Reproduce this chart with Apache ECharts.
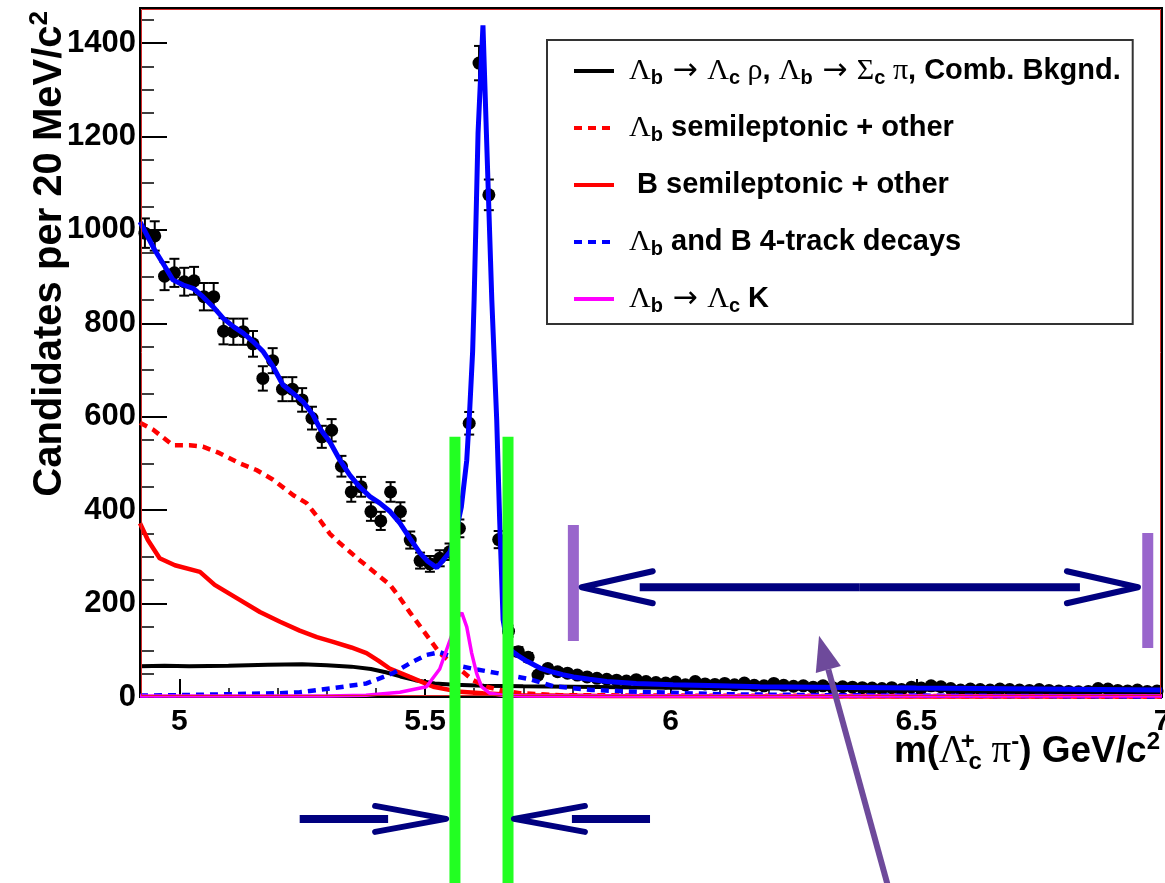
<!DOCTYPE html>
<html>
<head>
<meta charset="utf-8">
<title>m(Λc+ π-) candidates</title>
<script src="https://cdn.jsdelivr.net/npm/echarts@6/dist/echarts.min.js"></script>
<style>
  html, body { margin: 0; padding: 0; background: #ffffff; }
  #chart { width: 1165px; height: 883px; }
</style>
</head>
<body>
<div id="chart"></div>
<script>
// ---- measured spectrum: bin centres (GeV/c^2), candidates per 20 MeV, errors ----
const binCentres = [
  4.93,4.95,4.97,4.99,5.01,5.03,5.05,5.07,5.09,5.11,
  5.13,5.15,5.17,5.19,5.21,5.23,5.25,5.27,5.29,5.31,
  5.33,5.35,5.37,5.39,5.41,5.43,5.45,5.47,5.49,5.51,
  5.53,5.55,5.57,5.59,5.61,5.63,5.65,5.67,5.69,5.71,
  5.73,5.75,5.77,5.79,5.81,5.83,5.85,5.87,5.89,5.91,
  5.93,5.95,5.97,5.99,6.01,6.03,6.05,6.07,6.09,6.11,
  6.13,6.15,6.17,6.19,6.21,6.23,6.25,6.27,6.29,6.31,
  6.33,6.35,6.37,6.39,6.41,6.43,6.45,6.47,6.49,6.51,
  6.53,6.55,6.57,6.59,6.61,6.63,6.65,6.67,6.69,6.71,
  6.73,6.75,6.77,6.79,6.81,6.83,6.85,6.87,6.89,6.91,
  6.93,6.95,6.97,6.99
];
const counts = [
  993,987,901,908,889,891,857,857,783,782,
  782,756,682,720,659,659,636,597,557,571,
  494,439,450,397,377,439,397,336,292,285,
  297,311,361,586,1357,1075,337,141,97,85,
  47,61,54,51,47,43,40,38,36,34,
  37,33,31,30,32,26,33,28,27,29,
  26,30,25,24,29,25,23,24,21,24,
  20,22,21,20,19,18,20,16,21,19,
  24,22,18,15,17,16,15,17,16,15,
  14,16,14,13,12,11,12,18,17,14,
  13,15,12,13
];
const countErrors = [
  31.5,31.4,30.0,30.1,29.8,29.8,29.3,29.3,28.0,28.0,
  28.0,27.5,26.1,26.8,25.7,25.7,25.2,24.4,23.6,23.9,
  22.2,21.0,21.2,19.9,19.4,21.0,19.9,18.3,17.1,16.9,
  17.2,17.6,19.0,24.2,36.8,32.8,18.4,11.9,9.8,9.2,
  6.9,7.8,7.3,7.1,6.9,6.6,6.3,6.2,6.0,5.8,
  6.1,5.7,5.6,5.5,5.7,5.1,5.7,5.3,5.2,5.4,
  5.1,5.5,5.0,4.9,5.4,5.0,4.8,4.9,4.6,4.9,
  4.5,4.7,4.6,4.5,4.4,4.2,4.5,4.0,4.6,4.4,
  4.9,4.7,4.2,3.9,4.1,4.0,3.9,4.1,4.0,3.9,
  3.7,4.0,3.7,3.6,3.5,3.3,3.5,4.2,4.1,3.7,
  3.6,3.9,3.5,3.6
];

// ---- fit result and its components: [mass, candidates] ----
const totalFit = [
  [4.92,1017],[4.95,957],[4.971,921],[4.987,893],[5.008,882],[5.028,875],[5.048,857],
  [5.069,835],[5.089,811],[5.11,793],[5.13,779],[5.15,761],[5.171,739],[5.191,707],
  [5.211,668],[5.232,650],[5.252,632],[5.272,604],[5.286,575],[5.306,547],[5.327,507],
  [5.347,475],[5.367,450],[5.388,429],[5.408,415],[5.429,397],[5.449,372],[5.469,340],
  [5.49,308],[5.506,290],[5.524,277],[5.537,293],[5.551,311],[5.564,357],[5.574,407],
  [5.585,507],[5.591,614],[5.597,740],[5.600,850],[5.608,1207],[5.618,1438],[5.625,1207],
  [5.636,850],[5.646,593],[5.652,379],[5.659,165],[5.666,122],[5.673,101],[5.69,88],
  [5.707,77],[5.734,62],[5.755,55],[5.78,48],[5.802,43],[5.835,38],[5.87,33],[5.93,29],
  [6.005,26],[6.1,24],[6.182,22],[6.3,21],[6.5,19],[6.75,17],[7.0,15]
];
const combBackground = [
  [4.92,66],[4.97,67],[5.02,66],[5.1,67],[5.18,69],[5.25,70],[5.3,68],[5.35,65],
  [5.39,60],[5.42,53],[5.45,44],[5.48,36],[5.52,29],[5.56,26],[5.62,24],[5.7,23],
  [5.8,22],[6.0,20],[6.25,18],[6.5,16],[6.75,14],[7.0,12]
];
const lambdaBSemileptonic = [
  [4.92,587],[4.947,572],[4.987,539],[5.021,539],[5.048,536],[5.082,522],[5.123,500],
  [5.157,486],[5.191,465],[5.232,432],[5.259,415],[5.286,379],[5.306,350],[5.327,329],
  [5.347,311],[5.367,293],[5.388,275],[5.408,258],[5.429,240],[5.449,212],[5.47,180],
  [5.496,143],[5.53,94],[5.564,65],[5.598,36],[5.625,22],[5.652,15],[5.693,8],
  [5.775,4],[6.0,3],[6.5,2],[7.0,1]
];
const bSemileptonic = [
  [4.92,372],[4.936,336],[4.96,297],[4.991,282],[5.042,268],[5.072,240],[5.123,208],
  [5.164,182],[5.205,161],[5.245,142],[5.28,128],[5.313,118],[5.35,106],[5.381,94],
  [5.405,78],[5.428,61],[5.469,43],[5.517,22],[5.571,11],[5.618,8],[5.693,4],
  [5.856,2],[6.5,1],[7.0,1]
];
const fourTrackDecays = [
  [4.92,3],[5.0,4],[5.1,6],[5.2,8],[5.245,10],[5.313,19],[5.381,29],[5.435,51],
  [5.469,72],[5.503,90],[5.53,96],[5.555,86],[5.571,66],[5.6,60],[5.632,54],
  [5.673,46],[5.714,38],[5.74,30],[5.761,23],[5.84,15],[5.94,11],[6.1,6],
  [6.3,4],[6.5,3],[7.0,1]
];
const lambdaCKaon = [
  [4.92,2],[5.3,2],[5.38,4],[5.449,10],[5.503,22],[5.53,60],[5.551,122],[5.568,172],
  [5.575,180],[5.585,150],[5.595,94],[5.605,51],[5.615,22],[5.632,8],[5.66,3],
  [5.7,2],[7.0,2]
];

// ---- axis ranges and tick labels ----
const massRange = [4.92, 7.0];
const countRange = [0, 1475];
const xTickLabels = { 5: '5', 5.5: '5.5', 6: '6', 6.5: '6.5', 7: '7' };
const yTickLabels = { 0: '0', 200: '200', 400: '400', 600: '600', 800: '800', 1000: '1000', 1200: '1200', 1400: '1400' };

// ---- series names shown in the legend ----
const names = {
  comb: 'Λb → Λc ρ, Λb → Σc π, Comb. Bkgnd.',
  lbSemi: 'Λb semileptonic + other',
  bSemi: 'B semileptonic + other',
  fourTrack: 'Λb and B 4-track decays',
  lcK: 'Λb → Λc K'
};
const legendRich = {
  [names.comb]: '{g|Λ}{s|b}{a| → }{g|Λ}{s|c}{g| ρ}{t|, }{g|Λ}{s|b}{a| → }{g|Σ}{s|c}{g| π}{t|, Comb. Bkgnd.}',
  [names.lbSemi]: '{g|Λ}{s|b}{t| semileptonic + other}',
  [names.bSemi]: '{t| B semileptonic + other}',
  [names.fourTrack]: '{g|Λ}{s|b}{t| and B 4-track decays}',
  [names.lcK]: '{g|Λ}{s|b}{a| → }{g|Λ}{s|c}{t| K}'
};

// ---- annotation anchors in data units (mass, candidates) ----
const windowEdges = [5.561, 5.669];
const windowTop = 557;
const windowArrowLevel = -261;
const windowArrows = [[5.543, 5.245], [5.681, 5.958]];      // [tip, tail]
const sidebandBars = [[5.802, 120, 368], [6.971, 105, 351]]; // [mass, low, high]
const sidebandArrowLevel = 235;
const sidebandTips = [5.819, 6.951];
const pointerTip = [6.302, 131];

const SANS = "'Liberation Sans', Arial, Helvetica, sans-serif";
const SYMB = "'Liberation Serif', 'DejaVu Serif', serif";
const ARROW = "'DejaVu Sans', sans-serif";
const NAVY = '#00007f';

const chart = echarts.init(document.getElementById('chart'), null, { renderer: 'canvas' });

function onHalfGeV(v) { return Math.abs(v * 2 - Math.round(v * 2)) < 1e-6; }

const legendTextStyle = {
  fontFamily: SANS, fontWeight: 'bold', fontSize: 29, color: '#000', lineHeight: 34,
  padding: [0, 0, 0, 10],
  rich: {
    t: { fontFamily: SANS, fontWeight: 'bold', fontSize: 29, color: '#000', lineHeight: 34 },
    g: { fontFamily: SYMB, fontWeight: 'normal', fontSize: 30, color: '#000', lineHeight: 34 },
    a: { fontFamily: ARROW, fontWeight: 'normal', fontSize: 30, color: '#000', lineHeight: 34 },
    s: { fontFamily: SANS, fontWeight: 'bold', fontSize: 20, color: '#000', lineHeight: 34, padding: [14, 0, 0, 0] }
  }
};

function lineSeries(name, data, color, width, dashed, z) {
  return {
    name: name, type: 'line', data: data, symbol: 'none', showSymbol: false,
    smooth: false, clip: true, z: z || 4,
    lineStyle: { color: color, width: width, type: dashed ? [8, 6] : 'solid', cap: 'butt', opacity: 1 },
    itemStyle: { color: color },
    emphasis: { disabled: true }
  };
}

const option = {
  animation: false,
  backgroundColor: '#ffffff',
  grid: {
    left: 140, right: 3, top: 8, bottom: 186,
    show: true, borderColor: '#000', borderWidth: 2,
    containLabel: false, outerBoundsMode: 'none'
  },
  xAxis: {
    type: 'value', min: massRange[0], max: massRange[1], splitNumber: 4,
    name: 'm({g|Λ}{p|+}{c|c}{g| π}{m|-}) GeV/c{q|2}',
    nameLocation: 'end', nameGap: -2, nameMoveOverlap: false,
    nameTextStyle: {
      fontFamily: SANS, fontWeight: 'bold', fontSize: 37, color: '#000',
      align: 'right', verticalAlign: 'top', padding: [34, 0, 0, 0], lineHeight: 42,
      rich: {
        g: { fontFamily: SYMB, fontWeight: 'normal', fontSize: 39, color: '#000', lineHeight: 42 },
        c: { fontFamily: SANS, fontWeight: 'bold', fontSize: 24, color: '#000', lineHeight: 42, padding: [20, 0, 0, 0] },
        p: { fontFamily: SANS, fontWeight: 'bold', fontSize: 24, color: '#000', lineHeight: 42, padding: [0, 0, 20, 0], width: 1, align: 'left' },
        m: { fontFamily: SANS, fontWeight: 'bold', fontSize: 24, color: '#000', lineHeight: 42, padding: [0, 0, 20, 0] },
        q: { fontFamily: SANS, fontWeight: 'bold', fontSize: 24, color: '#000', lineHeight: 42, padding: [0, 0, 20, 0] }
      }
    },
    axisLine: { show: true, onZero: false, lineStyle: { color: '#000', width: 2 } },
    axisTick: { show: true, inside: true, length: 18, lineStyle: { color: '#000', width: 2 } },
    minorTick: { show: true, splitNumber: 5, length: 9, lineStyle: { color: '#000', width: 1.5 } },
    axisLabel: {
      show: true, margin: 10, fontFamily: SANS, fontWeight: 'bold', fontSize: 30, color: '#000',
      formatter: function (v) { return onHalfGeV(v) && xTickLabels[+v.toFixed(1)] !== undefined ? xTickLabels[+v.toFixed(1)] : ''; }
    },
    splitLine: { show: false }
  },
  yAxis: {
    type: 'value', min: countRange[0], max: countRange[1], interval: 200,
    name: 'Candidates per 20 MeV/c{q|2}',
    nameLocation: 'end', nameRotate: 90, nameGap: -3, nameMoveOverlap: false,
    nameTextStyle: {
      fontFamily: SANS, fontWeight: 'bold', fontSize: 40, color: '#000',
      align: 'right', verticalAlign: 'bottom', padding: [0, 0, 68, 0], lineHeight: 44,
      rich: {
        q: { fontFamily: SANS, fontWeight: 'bold', fontSize: 26, color: '#000', lineHeight: 44, padding: [0, 0, 20, 0] }
      }
    },
    axisLine: { show: true, onZero: false, lineStyle: { color: '#000', width: 2 } },
    axisTick: { show: true, inside: true, length: 27, lineStyle: { color: '#000', width: 2 } },
    minorTick: { show: true, splitNumber: 4, length: 14, lineStyle: { color: '#000', width: 1.5 } },
    axisLabel: {
      show: true, margin: 4, fontFamily: SANS, fontWeight: 'bold', fontSize: 31, color: '#000',
      formatter: function (v) { return yTickLabels[v] !== undefined ? yTickLabels[v] : ''; }
    },
    splitLine: { show: false }
  },
  legend: {
    show: true, orient: 'vertical', left: 547, top: 40,
    padding: [14, 12, 8, 25], itemGap: 23, itemWidth: 40, itemHeight: 14,
    borderColor: '#333', borderWidth: 2, backgroundColor: '#fff',
    selectedMode: false,
    data: [names.comb, names.lbSemi, names.bSemi, names.fourTrack, names.lcK],
    formatter: function (name) { return legendRich[name]; },
    textStyle: legendTextStyle,
    itemStyle: { opacity: 0, borderWidth: 0 },
    lineStyle: { width: 4 }
  },
  series: [
    {
      name: 'stat. errors', type: 'custom', z: 3,
      data: binCentres.map(function (m, i) { return [m, counts[i] - countErrors[i], counts[i] + countErrors[i]]; }),
      encode: { x: 0, y: [1, 2] },
      renderItem: function (params, api) {
        const lo = api.coord([api.value(0), api.value(1)]);
        const hi = api.coord([api.value(0), api.value(2)]);
        const st = { stroke: '#000', lineWidth: 2 };
        return {
          type: 'group',
          children: [
            { type: 'line', shape: { x1: lo[0], y1: lo[1], x2: hi[0], y2: hi[1] }, style: st },
            { type: 'line', shape: { x1: lo[0] - 5, y1: lo[1], x2: lo[0] + 5, y2: lo[1] }, style: st },
            { type: 'line', shape: { x1: hi[0] - 5, y1: hi[1], x2: hi[0] + 5, y2: hi[1] }, style: st }
          ]
        };
      },
      emphasis: { disabled: true }
    },
    {
      name: 'data', type: 'scatter', z: 3,
      data: binCentres.map(function (m, i) { return [m, counts[i]]; }),
      symbol: 'circle', symbolSize: 13, itemStyle: { color: '#000', opacity: 1 },
      emphasis: { disabled: true }
    },
    lineSeries(names.comb, combBackground, '#000000', 4, false),
    lineSeries(names.lbSemi, lambdaBSemileptonic, '#ff0000', 4.5, true),
    lineSeries(names.bSemi, bSemileptonic, '#ff0000', 4.5, false),
    lineSeries(names.fourTrack, fourTrackDecays, '#0000ff', 4.5, true),
    lineSeries(names.lcK, lambdaCKaon, '#ff00ff', 3.5, false),
    lineSeries('total fit', totalFit, '#0000ff', 5, false, 5)
  ]
};

chart.setOption(option);

// ---- overlays: frame inner line, mass window, sideband and pointer arrows ----
function px(m, c) { return chart.convertToPixel({ gridIndex: 0 }, [m, c]); }

function drawOverlays() {
  const H = chart.getHeight();
  const els = [];

  const tl = px(massRange[0], countRange[1]);
  const br = px(massRange[1], countRange[0]);
  els.push({
    type: 'rect', silent: true, z: 6,
    shape: { x: tl[0] + 1.5, y: tl[1] + 1.5, width: br[0] - tl[0] - 3, height: br[1] - tl[1] - 3 },
    style: { fill: 'none', stroke: '#d42a2a', lineWidth: 1 }
  });

  windowEdges.forEach(function (m) {
    const p = px(m, windowTop);
    els.push({ type: 'rect', silent: true, z: 20,
      shape: { x: p[0] - 5.5, y: p[1], width: 11, height: H - p[1] },
      style: { fill: '#22ff22' } });
  });

  sidebandBars.forEach(function (b) {
    const top = px(b[0], b[2]), bot = px(b[0], b[1]);
    els.push({ type: 'rect', silent: true, z: 20,
      shape: { x: top[0] - 5.5, y: top[1], width: 11, height: bot[1] - top[1] },
      style: { fill: '#9966cc' } });
  });

  function arrow(tip, tail, half) {
    const dir = Math.sign(tail[0] - tip[0]);
    const back = tip[0] + dir * 71;
    els.push({ type: 'line', silent: true, z: 21,
      shape: { x1: tip[0] + dir * 58, y1: tip[1], x2: tail[0], y2: tail[1] },
      style: { stroke: NAVY, lineWidth: 8 } });
    els.push({ type: 'polyline', silent: true, z: 21,
      shape: { points: [[back, tip[1] - half], [tip[0], tip[1]], [back, tip[1] + half]] },
      style: { stroke: NAVY, lineWidth: 6, lineCap: 'round', lineJoin: 'round', fill: 'none' } });
  }

  windowArrows.forEach(function (a) {
    arrow(px(a[0], windowArrowLevel), px(a[1], windowArrowLevel), 13);
  });

  const mid = (sidebandTips[0] + sidebandTips[1]) / 2;
  sidebandTips.forEach(function (m) {
    arrow(px(m, sidebandArrowLevel), px(mid, sidebandArrowLevel), 16);
  });

  const tip = px(pointerTip[0], pointerTip[1]);
  const ux = 0.2656, uy = 0.9648;
  const base = [tip[0] + 35 * ux, tip[1] + 35 * uy];
  const pxp = -uy, pyp = ux;
  const tailLen = (H + 4 - tip[1]) / uy;
  els.push({ type: 'line', silent: true, z: 21,
    shape: { x1: base[0], y1: base[1], x2: tip[0] + tailLen * ux, y2: tip[1] + tailLen * uy },
    style: { stroke: '#6e4a9b', lineWidth: 6 } });
  els.push({ type: 'polygon', silent: true, z: 21,
    shape: { points: [[tip[0], tip[1]], [base[0] + 13 * pxp, base[1] + 13 * pyp], [base[0] - 13 * pxp, base[1] - 13 * pyp]] },
    style: { fill: '#6e4a9b' } });

  chart.setOption({ graphic: { elements: els } });
}

drawOverlays();
</script>
</body>
</html>
